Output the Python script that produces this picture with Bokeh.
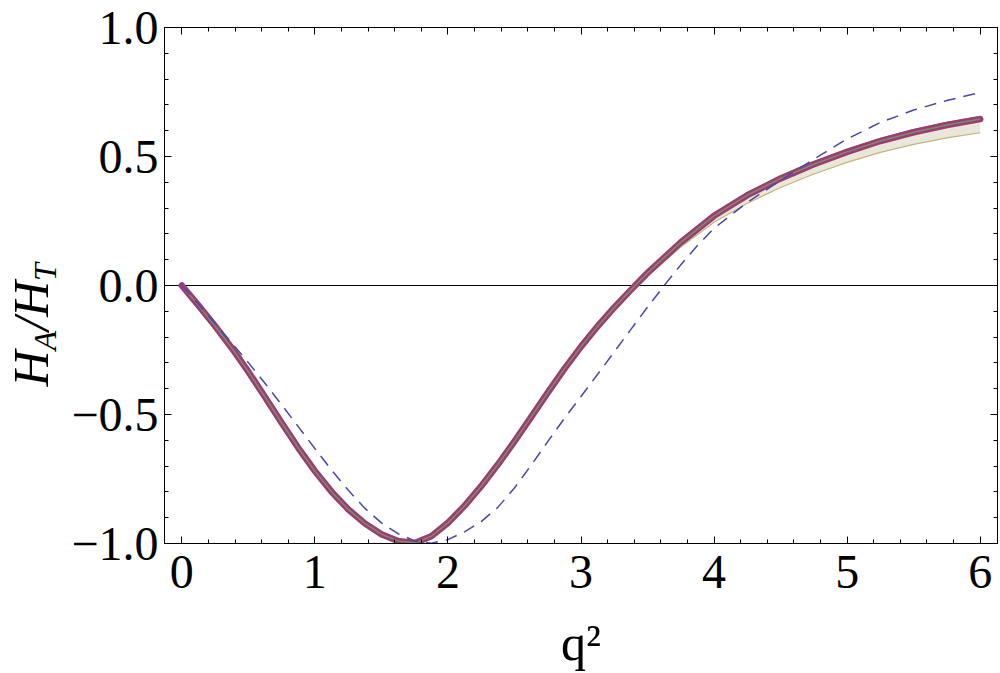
import math
from bokeh.plotting import figure
from bokeh.layouts import row
from bokeh.models import (Range1d, LinearAxis, SingleIntervalTicker, Span,
                          CustomJSTickFormatter)
from bokeh.core.properties import value
from bokeh.embed import file_html
from bokeh.resources import INLINE

# ---------------- data ----------------
q_main = [0.0, 0.125, 0.25, 0.375, 0.5, 0.625, 0.75, 0.875, 1.0, 1.125, 1.25, 1.375,
          1.5, 1.625, 1.75, 1.875, 2.0, 2.125, 2.25, 2.375, 2.5, 2.625, 2.75, 2.875,
          3.0, 3.125, 3.25, 3.375, 3.5, 3.75, 4.0, 4.25, 4.5, 4.75, 5.0, 5.25, 5.5,
          5.75, 6.0]
ratio_main = [0.0, -0.077, -0.157, -0.242, -0.334, -0.432, -0.532, -0.629, -0.719,
              -0.799, -0.867, -0.922, -0.964, -0.990, -0.998, -0.972, -0.920, -0.854,
              -0.778, -0.694, -0.604, -0.510, -0.415, -0.323, -0.237, -0.158, -0.085,
              -0.017, 0.049, 0.167, 0.270, 0.350, 0.415, 0.470, 0.518, 0.560, 0.594,
              0.622, 0.645]

q_dash = [0.0, 0.125, 0.25, 0.375, 0.5, 0.625, 0.75, 0.875, 1.0, 1.125, 1.25, 1.375,
          1.5, 1.625, 1.75, 1.875, 2.0, 2.125, 2.25, 2.375, 2.5, 2.625, 2.75, 2.875,
          3.0, 3.125, 3.25, 3.375, 3.5, 3.625, 3.75, 3.875, 4.0, 4.25, 4.5, 4.75,
          5.0, 5.25, 5.5, 5.75, 6.0]
ratio_dash = [0.0, -0.073, -0.147, -0.222, -0.299, -0.379, -0.462, -0.547, -0.632,
              -0.715, -0.793, -0.863, -0.920, -0.962, -0.990, -0.999, -0.985, -0.955,
              -0.915, -0.860, -0.785, -0.697, -0.605, -0.515, -0.430, -0.344, -0.257,
              -0.170, -0.084, 0.0, 0.080, 0.155, 0.222, 0.322, 0.408, 0.490, 0.568,
              0.632, 0.680, 0.717, 0.748]

band_q = [2.75, 3.0, 3.25, 3.5, 3.75, 4.0, 4.25, 4.5, 4.75, 5.0, 5.25, 5.5, 5.75, 6.0]
band_hi = [-0.415, -0.235, -0.081, 0.054, 0.173, 0.277, 0.358, 0.424, 0.480, 0.528,
           0.570, 0.604, 0.632, 0.656]
band_lo = [-0.415, -0.241, -0.093, 0.037, 0.149, 0.245, 0.319, 0.380, 0.432, 0.477,
           0.516, 0.547, 0.572, 0.592]

x_ticks = [0, 1, 2, 3, 4, 5, 6]
y_ticks = [-1.0, -0.5, 0.0, 0.5, 1.0]
y_tick_labels = ["\u22121.0", "\u22120.5", "0.0", "0.5", "1.0"]

y_title_parts = ["H", "A", "/", "H", "T"]
x_title = "q\u00b2"

# ---------------- layout ----------------
TOTAL_W, H = 1000, 673
TW = 68                      # strip holding the y-axis title
W = TOTAL_W - TW
ML = 163 - TW
MT = 27
FW = 834
FH = 516
MR = W - ML - FW
MB = H - MT - FH
XR = (-0.13, 6.13)
YR = (-1.0, 1.0)
FONT = "Liberation Serif"
TICK_FS = "48px"

p = figure(width=W, height=H, x_range=Range1d(*XR), y_range=Range1d(*YR),
           output_backend="svg", toolbar_location=None,
           min_border_left=ML, min_border_right=MR, min_border_top=MT,
           min_border_bottom=MB)
p.grid.visible = False
p.outline_line_color = "black"
p.outline_line_width = 1
p.background_fill_color = "white"
p.border_fill_color = "white"


def style_axis(ax, ticker, show_labels, standoff):
    ax.ticker = ticker
    ax.major_tick_in = 7
    ax.major_tick_out = 0
    ax.minor_tick_in = 4
    ax.minor_tick_out = 0
    ax.axis_line_color = "black"
    ax.major_tick_line_color = "black"
    ax.minor_tick_line_color = "black"
    ax.major_label_standoff = standoff
    if show_labels:
        ax.major_label_text_font = FONT
        ax.major_label_text_font_size = TICK_FS
        ax.major_label_text_color = "black"
    else:
        ax.formatter = CustomJSTickFormatter(code="return ''")
        ax.major_label_text_font_size = "8px"
        ax.axis_label_standoff = 0


style_axis(p.xaxis[0], SingleIntervalTicker(interval=1, num_minor_ticks=5), True, 12)
style_axis(p.yaxis[0], SingleIntervalTicker(interval=0.5, num_minor_ticks=5), True, 6)
p.yaxis[0].major_label_overrides = {v: s for v, s in zip(y_ticks, y_tick_labels)}
p.xaxis[0].axis_label = x_title
p.xaxis[0].axis_label_text_font = FONT
p.xaxis[0].axis_label_text_font_size = "50px"
p.xaxis[0].axis_label_text_font_style = "normal"
p.xaxis[0].axis_label_standoff = 24
p.xaxis[0].axis_label_text_color = "black"

top = LinearAxis()
style_axis(top, SingleIntervalTicker(interval=1, num_minor_ticks=5), False, 0)
p.add_layout(top, "above")
right = LinearAxis()
style_axis(right, SingleIntervalTicker(interval=0.5, num_minor_ticks=5), False, 0)
p.add_layout(right, "right")

# zero line
p.add_layout(Span(location=0, dimension="width", line_color="black",
                  line_width=1, level="underlay"))

# uncertainty band
p.varea(x=band_q, y1=band_lo, y2=band_hi, fill_color="#E9E7D9")
p.line(band_q, band_lo, line_color="#C6B47E", line_width=1.2)
p.line(band_q, band_hi, line_color="#5C8E6A", line_width=1.2)

# main curve
p.line(q_main, ratio_main, line_color="#9C3D71", line_width=6.5, line_join="round",
       line_cap="round")
p.line(q_main, ratio_main, line_color="#7B8C6E", line_width=1.5, line_join="round")

# dashed curve
p.line(q_dash, ratio_dash, line_color="#4848A8", line_width=1.5, line_dash="12 8")

# ---------------- y-axis title strip ----------------
t = figure(frame_width=TW, frame_height=H, x_range=Range1d(0, TW),
           y_range=Range1d(0, H), output_backend="svg", toolbar_location=None,
           min_border=0, x_axis_type=None, y_axis_type=None)
t.grid.visible = False
t.outline_line_color = None
t.background_fill_color = "white"
t.border_fill_color = "white"

# screen positions (px from the left / top of the page) of each piece
part_px = [30, 44, 30, 30, 44]
part_py = [359, 323, 303.5, 289.5, 253.5]
part_fs = [50, 32, 50, 50, 32]
for txt, px, py, fs in zip(y_title_parts, part_px, part_py, part_fs):
    t.text(x=[px], y=[H - py], text=[txt], angle=math.pi / 2,
           text_font=value(FONT), text_font_size=value(f"{fs}px"),
           text_font_style="italic", text_align="left",
           text_baseline="alphabetic", text_color="black")

layout = row(t, p)
open("out.html", "w").write(file_html(layout, INLINE))
